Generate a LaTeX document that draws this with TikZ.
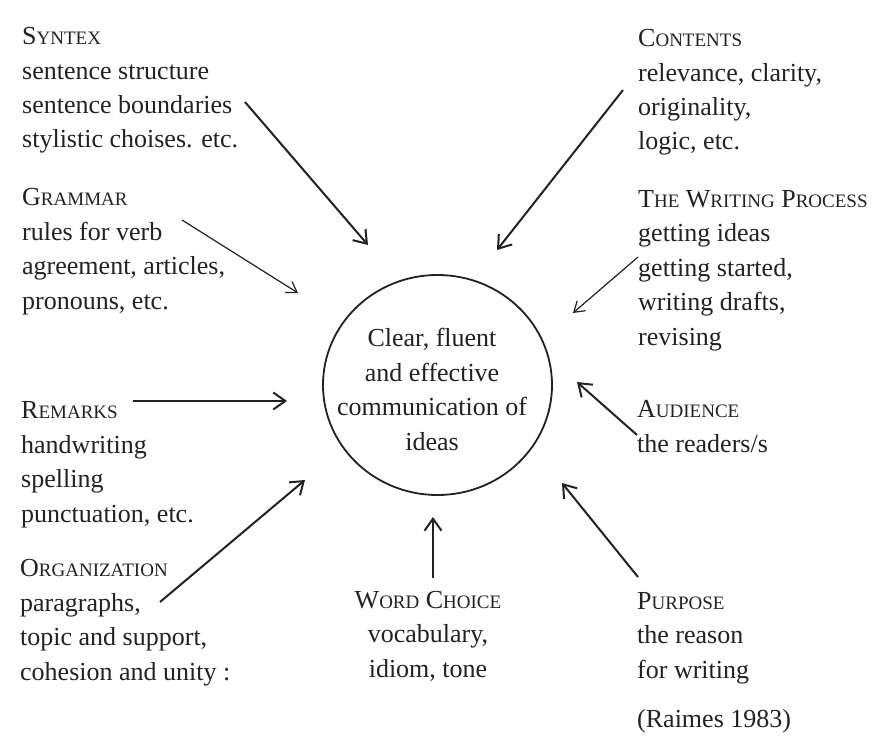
\documentclass[tikz,border=0pt]{standalone}
\usepackage{fontspec}
\setmainfont{Liberation Serif}
\usetikzlibrary{arrows.meta,shapes.geometric}
% small capitals built from two sizes of the same face
\newcommand{\capsfake}[2]{#1{\fontsize{19}{34.4}\selectfont #2}}
\definecolor{ink}{HTML}{222222}
\begin{document}
\begin{tikzpicture}[x=1pt,y=-1pt,
  % blocks are placed by the baseline of their last line
  txt/.style={anchor=base west, align=left, inner sep=0pt, text=ink,
    font=\fontsize{26}{34.4}\selectfont},
  ctxt/.style={txt, anchor=base, align=center},
  thick arrow/.style={draw=ink, line width=2pt,
    -{Straight Barb[length=12pt,width=17pt]}},
  thin arrow/.style={draw=ink, line width=1.2pt,
    -{Straight Barb[length=10pt,width=13pt]}},
  hubshape/.style={ellipse, draw=ink, line width=1.8pt,
    minimum width=229pt, minimum height=220pt, inner sep=0pt}]
\useasboundingbox[fill=white] (0,0) rectangle (876,738);

% centre
\node[hubshape] (hub) at (437.5,385) {};
\node[ctxt] (hubtext) at (432,450)
  {Clear, fluent\\and effective\\communication of\\ideas};

% left column
\node[txt] (syntax) at (22,148)
  {\capsfake{S}{YNTEX}\\sentence structure\\sentence boundaries\\stylistic choises. etc.};
\node[txt] (grammar) at (22,309)
  {\capsfake{G}{RAMMAR}\\rules for verb\\agreement, articles,\\pronouns, etc.};
\node[txt] (remarks) at (21,522)
  {\capsfake{R}{EMARKS}\\handwriting\\spelling\\punctuation, etc.};
\node[txt] (organization) at (20,680)
  {\capsfake{O}{RGANIZATION}\\paragraphs,\\topic and support,\\cohesion and unity :};

% bottom centre
\node[ctxt] (wordchoice) at (428,677)
  {\capsfake{W}{ORD} \capsfake{C}{HOICE}\\vocabulary,\\idiom, tone};

% right column
\node[txt] (contents) at (638,150)
  {\capsfake{C}{ONTENTS}\\relevance, clarity,\\originality,\\logic, etc.};
\node[txt] (process) at (638,345)
  {\capsfake{T}{HE} \capsfake{W}{RITING} \capsfake{P}{ROCESS}\\getting ideas\\getting started,\\writing drafts,\\revising};
\node[txt] (audience) at (637,452)
  {\capsfake{A}{UDIENCE}\\the readers/s};
\node[txt] (purpose) at (637,678)
  {\capsfake{P}{URPOSE}\\the reason\\for writing};
\node[txt] (source) at (637,727) {(Raimes 1983)};

% connector ends
\coordinate (syntaxA) at (245,102);   \coordinate (syntaxB) at (368,245);
\coordinate (grammarA) at (182,220);  \coordinate (grammarB) at (298,293);
\coordinate (contentsA) at (623,90);  \coordinate (contentsB) at (497,250);
\coordinate (processA) at (638,257);  \coordinate (processB) at (573,313);
\coordinate (remarksA) at (133,401);  \coordinate (remarksB) at (287,401);
\coordinate (orgA) at (160,602);      \coordinate (orgB) at (305,480);
\coordinate (wordA) at (433,578);     \coordinate (wordB) at (433,517);
\coordinate (audA) at (637,435);      \coordinate (audB) at (577,382);
\coordinate (purpA) at (638,577);     \coordinate (purpB) at (562,483);

% connectors
\draw[thick arrow] (syntaxA) -- (syntaxB);
\draw[thin arrow] (grammarA) -- (grammarB);
\draw[thick arrow] (contentsA) -- (contentsB);
\draw[thin arrow] (processA) -- (processB);
\draw[thick arrow] (remarksA) -- (remarksB);
\draw[thick arrow] (orgA) -- (orgB);
\draw[thick arrow] (wordA) -- (wordB);
\draw[thick arrow] (audA) -- (audB);
\draw[thick arrow] (purpA) -- (purpB);
\end{tikzpicture}
\end{document}
